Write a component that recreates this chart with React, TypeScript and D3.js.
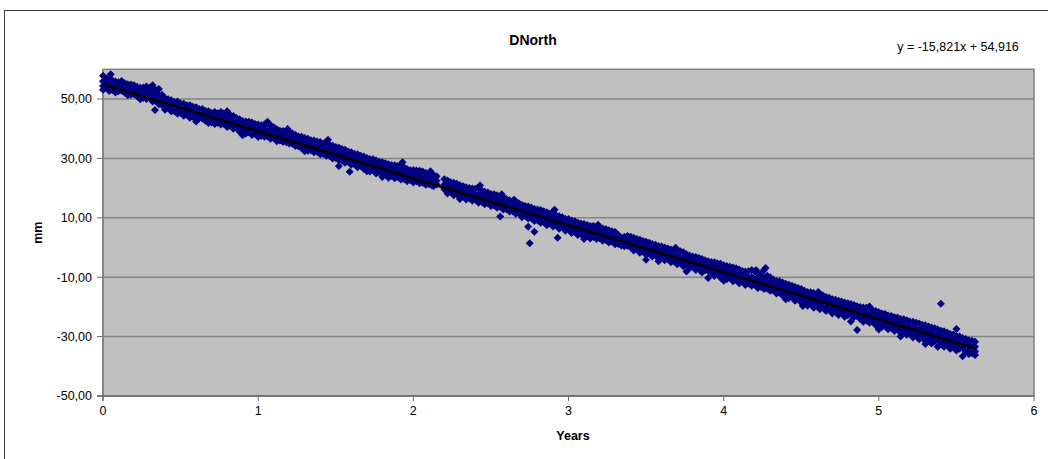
import React, { useEffect, useRef } from "react";
import * as d3 from "d3";

const title = "DNorth";
const xLabel = "Years";
const yLabel = "mm";
const xTicks = [0, 1, 2, 3, 4, 5, 6];
const yTicks = [-50, -30, -10, 10, 30, 50];
const trendSlope = -15.821;
const trendIntercept = 54.916;

// each row: [years, mm readings at that time...]
const year0 = [
  [0.0, 57.8, 56.0, 54.4, 53.1], [0.02, 57.0, 55.2, 53.6], [0.04, 56.9, 55.4, 54.0, 52.7],
  [0.06, 56.3, 54.6, 53.0], [0.08, 55.9, 54.8, 53.2, 52.2], [0.1, 55.6, 54.1, 52.6],
  [0.12, 56.1, 54.3, 52.8], [0.14, 55.3, 53.2, 52.1], [0.16, 55.0, 53.6, 52.0, 51.3],
  [0.18, 54.9, 53.3, 51.4], [0.2, 54.6, 53.0, 51.6], [0.22, 54.1, 52.5, 50.9],
  [0.24, 53.8, 52.4, 50.6, 49.9], [0.26, 53.9, 51.9, 50.3], [0.28, 54.2, 52.9, 51.4, 50.0],
  [0.3, 53.8, 52.0, 50.5], [0.32, 54.6, 53.1, 51.0, 49.2], [0.335, 46.3],
  [0.34, 53.0, 51.3, 49.3], [0.36, 53.4, 51.4, 49.8, 48.2], [0.38, 51.4, 49.8, 48.0],
  [0.4, 50.3, 49.0, 47.6, 46.4], [0.42, 49.9, 48.4, 47.0], [0.44, 49.6, 48.1, 46.8, 45.9],
  [0.46, 49.0, 47.3, 45.9], [0.48, 49.2, 47.5, 46.2, 45.0], [0.5, 48.5, 46.5, 45.3],
  [0.52, 48.4, 46.6, 45.3, 44.4], [0.54, 47.9, 46.0, 44.7], [0.56, 47.9, 46.3, 44.8, 43.7],
  [0.58, 47.4, 45.6, 44.0], [0.6, 47.2, 45.1, 44.2, 43.2], [0.62, 46.6, 44.6, 43.5],
  [0.64, 46.6, 44.9, 43.4], [0.66, 46.0, 44.3, 42.7], [0.68, 45.9, 44.0, 42.9, 41.9],
  [0.7, 45.3, 43.5, 42.1], [0.72, 45.6, 43.9, 42.4, 41.6], [0.74, 45.2, 43.5, 41.9],
  [0.76, 45.6, 44.1, 42.6, 41.4], [0.78, 45.1, 43.2, 41.7], [0.8, 45.0, 43.6, 42.0, 40.6],
  [0.82, 44.6, 42.6, 40.9], [0.84, 44.3, 42.9, 41.1, 40.0], [0.86, 43.6, 41.9, 40.3],
  [0.88, 43.2, 41.5, 40.0, 39.0], [0.9, 42.6, 41.0, 39.5], [0.92, 42.4, 41.0, 39.6, 38.3],
  [0.94, 42.3, 40.3, 38.8], [0.96, 42.1, 40.6, 39.3, 37.9], [0.98, 41.6, 39.9, 38.4],
];

const year1 = [
  [1.0, 41.4, 40.0, 38.5, 37.2], [1.02, 41.2, 39.5, 37.6], [1.04, 41.4, 39.8, 38.2, 37.3],
  [1.06, 41.6, 39.3, 37.4], [1.08, 41.2, 39.5, 37.8, 36.6], [1.1, 40.5, 38.6, 36.9],
  [1.12, 39.8, 38.1, 36.5, 35.8], [1.14, 39.3, 37.3, 36.0], [1.16, 39.2, 37.9, 36.4, 35.6],
  [1.18, 38.9, 37.0, 35.4], [1.2, 39.0, 37.4, 35.9, 35.0], [1.22, 38.5, 36.6, 34.9],
  [1.24, 37.9, 36.3, 35.0, 34.2], [1.26, 37.4, 35.6, 34.1], [1.28, 37.3, 35.9, 34.4, 33.4],
  [1.3, 36.9, 35.0, 33.4], [1.32, 36.6, 35.2, 33.8, 32.6], [1.34, 36.1, 34.4, 32.7],
  [1.36, 36.0, 34.5, 33.0, 32.1], [1.38, 35.7, 33.7, 32.2], [1.4, 35.5, 33.9, 32.5, 31.4],
  [1.42, 35.0, 33.2, 31.5], [1.44, 35.6, 33.7, 32.0, 30.9], [1.46, 34.6, 32.6, 30.8],
  [1.48, 34.3, 32.8, 31.2, 30.0], [1.5, 33.8, 31.8, 30.1], [1.52, 33.6, 32.0, 30.5, 29.4, 27.4],
  [1.54, 33.2, 31.4, 29.3], [1.56, 32.9, 31.1, 29.6, 28.5], [1.58, 32.3, 30.4, 28.9],
  [1.59, 25.5], [1.6, 32.1, 30.6, 29.0, 27.9], [1.62, 31.6, 29.8, 28.1],
  [1.64, 31.4, 29.9, 28.3, 27.0], [1.66, 30.9, 29.0, 27.4], [1.68, 30.6, 29.1, 27.8, 26.5],
  [1.7, 30.1, 28.6, 26.8], [1.72, 29.8, 28.4, 27.0, 25.6], [1.74, 29.7, 27.9, 26.2],
  [1.76, 29.4, 27.8, 26.3, 24.9], [1.78, 28.9, 27.2, 25.3], [1.8, 28.7, 27.0, 25.7, 23.7],
  [1.82, 28.4, 26.4, 24.6], [1.84, 28.0, 26.5, 25.0, 23.5], [1.86, 27.8, 25.9, 24.2],
  [1.88, 27.7, 26.0, 24.6, 23.3], [1.9, 27.4, 25.4, 23.7], [1.92, 28.0, 25.8, 24.1, 22.9],
  [1.94, 27.0, 24.9, 23.1], [1.96, 26.4, 24.8, 23.3, 22.3], [1.98, 26.0, 24.3, 22.7],
];

const year2 = [
  [2.0, 26.1, 24.6, 23.0, 21.9], [2.02, 25.9, 24.0, 22.3], [2.04, 25.8, 24.3, 22.7, 21.6],
  [2.06, 25.6, 23.4, 21.8], [2.08, 25.1, 23.6, 22.2, 21.1], [2.1, 24.8, 22.9, 21.3],
  [2.12, 24.9, 23.2, 21.8, 20.9], [2.13, 24.3, 22.1, 20.6], [2.15, 24.0, 22.5, 21.2],
  [2.2, 23.0, 21.2, 19.6], [2.22, 22.6, 20.9, 19.4, 18.2], [2.24, 22.0, 20.3, 18.8],
  [2.26, 21.8, 20.0, 18.7, 17.6], [2.28, 21.5, 19.6, 18.1], [2.3, 21.0, 19.4, 18.0, 17.0],
  [2.32, 20.6, 18.9, 17.3], [2.34, 20.3, 18.6, 17.4, 16.2], [2.36, 20.0, 18.4, 16.6],
  [2.38, 19.9, 18.3, 16.8, 15.7], [2.4, 19.8, 17.7, 16.2], [2.42, 20.3, 18.0, 16.4, 15.1],
  [2.44, 19.2, 17.0, 15.4], [2.46, 18.8, 17.1, 15.6, 14.6], [2.48, 18.5, 16.6, 14.9],
  [2.5, 18.0, 16.6, 15.1, 14.0], [2.52, 17.9, 16.0, 14.1], [2.54, 17.6, 15.9, 14.5, 13.4],
  [2.56, 17.2, 15.5, 13.6, 10.4], [2.58, 16.9, 15.3, 13.8, 12.8], [2.6, 16.3, 14.6, 12.9],
  [2.62, 15.9, 14.4, 13.0, 12.1], [2.64, 15.6, 13.9, 12.2], [2.66, 15.4, 13.8, 12.4, 11.4],
  [2.68, 14.9, 13.2, 11.5], [2.7, 14.3, 12.9, 11.5, 10.2], [2.72, 14.0, 12.6, 10.7],
  [2.74, 13.8, 12.2, 10.8, 9.8, 7.0], [2.75, 1.4], [2.76, 13.5, 11.5, 9.9],
  [2.78, 13.0, 11.4, 10.0, 8.9, 5.3], [2.8, 12.8, 10.9, 9.2], [2.82, 12.6, 11.0, 9.5, 8.3],
  [2.84, 12.2, 10.4, 8.6], [2.86, 11.9, 10.3, 8.9, 7.5], [2.88, 11.4, 9.8, 8.0],
  [2.9, 12.1, 10.0, 8.4, 7.1], [2.92, 10.8, 9.1, 7.4], [2.93, 3.3],
  [2.94, 10.5, 9.0, 7.6, 6.3], [2.96, 10.2, 8.4, 6.9], [2.98, 9.6, 8.1, 6.8, 5.6],
];

const year3 = [
  [3.0, 9.6, 7.7, 6.1], [3.02, 9.1, 7.4, 6.0, 4.9], [3.04, 8.8, 7.1, 5.5],
  [3.06, 8.3, 6.9, 5.3, 4.2], [3.08, 8.1, 6.5, 4.7], [3.1, 7.9, 6.3, 4.8, 3.6],
  [3.12, 7.6, 5.9, 4.2], [3.14, 7.2, 5.6, 4.1, 3.0], [3.16, 7.2, 5.3, 3.6],
  [3.18, 7.0, 5.3, 3.9, 2.9], [3.2, 6.6, 4.7, 3.1], [3.22, 6.4, 4.8, 3.4, 2.3],
  [3.24, 6.2, 4.2, 2.5], [3.26, 5.8, 4.1, 2.7, 1.7], [3.28, 5.5, 3.6, 1.9],
  [3.3, 5.2, 3.5, 2.1, 1.1], [3.32, 4.3, 2.6, 1.2], [3.34, 3.3, 1.8, 0.7],
  [3.36, 3.6, 2.3, 0.4], [3.38, 3.9, 2.1, 0.6], [3.4, 3.6, 1.8, 0.0],
  [3.42, 3.3, 1.6, 0.0, -1.0], [3.44, 2.9, 1.1, -0.6], [3.46, 2.6, 0.9, -0.6, -1.8],
  [3.48, 2.2, 0.5, -1.3], [3.5, 1.9, 0.2, -1.3, -2.4, -4.1], [3.52, 1.6, -0.2, -2.0],
  [3.54, 1.2, -0.4, -1.9, -3.0], [3.56, 0.9, -0.9, -2.6], [3.58, 0.5, -1.0, -2.6, -3.7],
  [3.6, 0.3, -1.5, -3.1], [3.62, 0.0, -1.8, -3.3, -4.3], [3.64, -0.3, -2.1, -3.9],
  [3.66, -0.7, -2.4, -3.9, -5.0], [3.68, -0.9, -2.7, -4.6], [3.7, -0.8, -2.9, -4.4, -5.6],
  [3.72, -1.3, -3.3, -5.1], [3.74, -1.6, -3.5, -5.0, -6.3], [3.76, -2.3, -4.1, -5.8],
  [3.78, -2.7, -4.2, -5.8, -7.0], [3.8, -3.0, -4.6, -6.4], [3.82, -3.2, -4.9, -6.3, -7.6],
  [3.84, -3.5, -5.3, -7.1], [3.86, -3.9, -5.6, -7.0, -8.4], [3.88, -4.3, -6.0, -7.7],
  [3.9, -4.6, -6.2, -7.8, -10.3], [3.92, -4.9, -6.5, -8.5], [3.94, -5.0, -6.8, -8.3, -9.6],
  [3.96, -5.3, -7.0, -8.9], [3.98, -5.5, -7.3, -8.9, -10.2],
];

const year4 = [
  [4.0, -6.0, -7.7, -9.6], [4.02, -6.2, -7.9, -9.5, -10.7], [4.04, -6.5, -8.3, -10.1],
  [4.06, -6.7, -8.5, -10.1, -11.4], [4.08, -7.0, -9.0, -10.8], [4.1, -7.4, -9.2, -10.8, -12.0],
  [4.12, -7.9, -9.6, -11.5], [4.14, -8.1, -9.7, -11.4, -12.6], [4.16, -8.0, -10.2, -12.1],
  [4.18, -7.6, -9.9, -11.6, -12.9], [4.2, -8.0, -10.6, -12.5], [4.22, -8.8, -10.6, -12.4, -13.6],
  [4.24, -8.9, -11.0, -13.3], [4.26, -7.6, -10.4, -12.3, -14.0], [4.28, -9.5, -11.7, -13.9],
  [4.3, -10.0, -11.9, -13.4, -14.6], [4.32, -10.8, -12.6, -14.5], [4.34, -11.2, -12.8, -14.4, -15.5],
  [4.36, -11.4, -13.3, -15.2], [4.38, -11.8, -13.5, -15.0, -16.2], [4.4, -12.2, -14.0, -15.8],
  [4.42, -12.5, -14.2, -15.8, -17.1], [4.44, -12.9, -14.6, -16.6], [4.46, -13.3, -14.9, -16.5, -17.9],
  [4.48, -13.6, -15.4, -17.3], [4.5, -14.0, -15.6, -17.2, -18.6], [4.52, -14.6, -16.2, -18.1],
  [4.54, -15.0, -16.6, -18.2, -19.6], [4.56, -15.1, -16.9, -18.8], [4.58, -15.3, -17.4, -18.9, -20.3],
  [4.6, -15.7, -17.5, -19.4], [4.62, -15.9, -17.6, -19.4, -20.8], [4.64, -16.2, -18.2, -20.0],
  [4.66, -16.7, -18.3, -20.1, -21.4], [4.68, -16.9, -18.7, -20.8], [4.7, -17.4, -19.0, -20.6, -22.2],
  [4.72, -17.6, -19.4, -21.3], [4.74, -17.9, -19.6, -21.4, -22.7], [4.76, -18.2, -20.0, -22.1],
  [4.78, -18.5, -20.2, -21.8, -23.3], [4.8, -18.8, -20.6, -22.8], [4.82, -19.0, -20.8, -22.5, -24.9],
  [4.84, -19.4, -21.2, -23.4], [4.86, -19.8, -21.5, -23.1, -27.8], [4.88, -20.0, -21.8, -24.1],
  [4.9, -20.2, -22.0, -23.6, -25.0], [4.92, -20.3, -22.4, -24.6], [4.94, -19.9, -22.0, -23.9, -25.3],
  [4.96, -21.1, -23.0, -25.0], [4.98, -21.4, -23.1, -24.7, -26.2],
];

const year5 = [
  [5.0, -21.8, -23.6, -25.7], [5.02, -22.2, -23.9, -25.4, -26.8], [5.04, -22.4, -24.3, -26.3],
  [5.06, -22.9, -24.5, -26.0, -27.5], [5.08, -23.1, -24.9, -26.9], [5.1, -23.5, -25.2, -26.8, -28.1],
  [5.12, -23.6, -25.6, -27.6], [5.14, -24.1, -25.8, -27.3, -28.7, -30.0], [5.16, -24.2, -26.0, -28.3],
  [5.18, -24.5, -26.3, -27.9, -29.4], [5.2, -24.9, -26.8, -28.8], [5.22, -25.0, -26.9, -28.6, -30.3],
  [5.24, -25.3, -27.4, -29.6], [5.26, -25.6, -27.5, -29.2, -30.9], [5.28, -26.0, -28.0, -30.2],
  [5.3, -26.2, -28.0, -29.7, -31.5], [5.32, -26.6, -28.6, -30.8], [5.34, -26.9, -28.7, -30.5, -32.3],
  [5.36, -27.2, -29.3, -31.6], [5.38, -27.6, -29.4, -31.2, -33.3], [5.4, -28.0, -29.9, -32.2, -18.9],
  [5.42, -28.2, -30.0, -31.7, -33.4], [5.44, -28.6, -30.5, -32.8], [5.46, -29.1, -30.8, -32.5, -34.1],
  [5.48, -29.3, -31.2, -33.6], [5.5, -27.4, -29.8, -31.6, -33.2, -34.7], [5.52, -30.0, -31.9, -34.1],
  [5.54, -30.5, -32.1, -33.8, -36.6], [5.56, -30.8, -32.6, -35.2], [5.58, -31.2, -32.8, -34.5, -35.9],
  [5.6, -31.4, -33.2, -35.6], [5.62, -31.7, -33.4, -35.0, -36.2],
];

// readings poking out of the band edges
const stragglers = [
  [0.05, 58.3], [0.6, 42.4], [0.8, 45.9], [0.9, 37.8], [1.06, 42.3], [1.19, 39.9],
  [1.3, 32.4], [1.45, 36.3], [1.7, 25.7], [1.93, 28.7], [2.11, 25.7], [2.3, 16.3],
  [2.43, 20.9], [2.57, 17.9], [2.65, 16.1], [2.91, 12.7], [3.1, 2.9], [3.19, 7.7],
  [3.58, -4.6], [3.69, -0.1], [3.76, -8.1], [4.0, -11.2], [4.21, -7.7], [4.27, -6.9],
  [4.4, -17.4], [4.51, -19.7], [4.61, -15.0], [5.0, -27.6], [5.3, -32.5], [5.38, -33.4],
];

const W = 1048;
const H = 459;
const plot = { left: 103, right: 1034, top: 69.3, bottom: 396 };
const font = "'Liberation Sans', Arial, sans-serif";

const locale = d3.formatLocale({ decimal: ",", thousands: ".", grouping: [3], currency: ["", ""], minus: "-" });
const fmt = locale.format(".2f");

export default function App() {
  const ref = useRef<SVGSVGElement>(null);

  useEffect(() => {
    const svg = d3.select(ref.current);
    svg.selectAll("*").remove();

    const points = [year0, year1, year2, year3, year4, year5, stragglers]
      .flat()
      .flatMap(([x, ...ys]) => ys.map((y) => [x, y]));

    const x = d3.scaleLinear().domain([0, 6]).range([plot.left, plot.right]);
    const y = d3.scaleLinear().domain([-50, 60]).range([plot.bottom, plot.top]);

    // chart frame (only top / left visible)
    svg.append("rect").attr("x", 4.5).attr("y", 10.5).attr("width", W).attr("height", H)
      .attr("fill", "white").attr("stroke", "#3a3a3a").attr("stroke-width", 1);

    // plot area
    svg.append("rect")
      .attr("x", plot.left).attr("y", plot.top)
      .attr("width", plot.right - plot.left).attr("height", plot.bottom - plot.top)
      .attr("fill", "#c0c0c0").attr("stroke", "#808080").attr("stroke-width", 1.5);

    svg.append("g").selectAll("line")
      .data(yTicks.slice(1))
      .enter().append("line")
      .attr("x1", plot.left).attr("x2", plot.right)
      .attr("y1", (d) => y(d)).attr("y2", (d) => y(d))
      .attr("stroke", "#848484").attr("stroke-width", 1.5);

    // axes
    svg.append("line").attr("x1", plot.left).attr("x2", plot.left)
      .attr("y1", plot.top).attr("y2", plot.bottom + 5)
      .attr("stroke", "#808080").attr("stroke-width", 1.5);
    svg.append("line").attr("x1", plot.left - 6).attr("x2", plot.right)
      .attr("y1", plot.bottom).attr("y2", plot.bottom)
      .attr("stroke", "#6a6a6a").attr("stroke-width", 1.5);

    svg.append("g").selectAll("line")
      .data(yTicks)
      .enter().append("line")
      .attr("x1", plot.left - 6).attr("x2", plot.left)
      .attr("y1", (d) => y(d)).attr("y2", (d) => y(d))
      .attr("stroke", "#6a6a6a").attr("stroke-width", 1);

    svg.append("g").selectAll("line")
      .data(xTicks)
      .enter().append("line")
      .attr("x1", (d) => x(d)).attr("x2", (d) => x(d))
      .attr("y1", plot.bottom).attr("y2", plot.bottom + 5)
      .attr("stroke", "#6a6a6a").attr("stroke-width", 1);

    svg.append("g").selectAll("text")
      .data(yTicks)
      .enter().append("text")
      .attr("x", plot.left - 11).attr("y", (d) => y(d))
      .attr("dy", "0.35em").attr("text-anchor", "end")
      .style("font-family", font).style("font-size", "12.5px").style("fill", "#000")
      .text((d) => fmt(d));

    svg.append("g").selectAll("text")
      .data(xTicks)
      .enter().append("text")
      .attr("x", (d) => x(d)).attr("y", plot.bottom + 15)
      .attr("dy", "0.35em").attr("text-anchor", "middle")
      .style("font-family", font).style("font-size", "12.5px").style("fill", "#000")
      .text((d) => d);

    // markers
    const diamond = d3.symbol(d3.symbolSquare, 32)();
    svg.append("g").selectAll("path")
      .data(points)
      .enter().append("path")
      .attr("d", diamond)
      .attr("transform", (d) => `translate(${x(d[0])},${y(d[1])}) rotate(45)`)
      .attr("fill", "#000080");

    // trend line
    const xMax = d3.max(points, (d) => d[0]) as number;
    const trend = d3.line<number>().x((d) => x(d)).y((d) => y(trendIntercept + trendSlope * d));
    svg.append("path")
      .attr("d", trend([0, xMax]))
      .attr("fill", "none").attr("stroke", "#000").attr("stroke-width", 2.5);

    // texts
    svg.append("text").attr("x", 533).attr("y", 40).attr("dy", "0.35em")
      .attr("text-anchor", "middle")
      .style("font-family", font).style("font-size", "14px").style("font-weight", "bold")
      .text(title);

    svg.append("text").attr("x", 958).attr("y", 47).attr("dy", "0.35em")
      .attr("text-anchor", "middle")
      .style("font-family", font).style("font-size", "12.5px")
      .text(`y = ${locale.format(".3f")(trendSlope)}x + ${locale.format(".3f")(trendIntercept)}`);

    svg.append("text").attr("transform", `translate(38,${(plot.top + plot.bottom) / 2}) rotate(-90)`)
      .attr("dy", "0.35em").attr("text-anchor", "middle")
      .style("font-family", font).style("font-size", "12.5px").style("font-weight", "bold")
      .text(yLabel);

    svg.append("text").attr("x", 573).attr("y", 436).attr("dy", "0.35em")
      .attr("text-anchor", "middle")
      .style("font-family", font).style("font-size", "12.5px").style("font-weight", "bold")
      .text(xLabel);
  }, []);

  return (
    <svg
      ref={ref}
      width={W}
      height={H}
      style={{ position: "absolute", left: 0, top: 0, background: "white" }}
    />
  );
}
